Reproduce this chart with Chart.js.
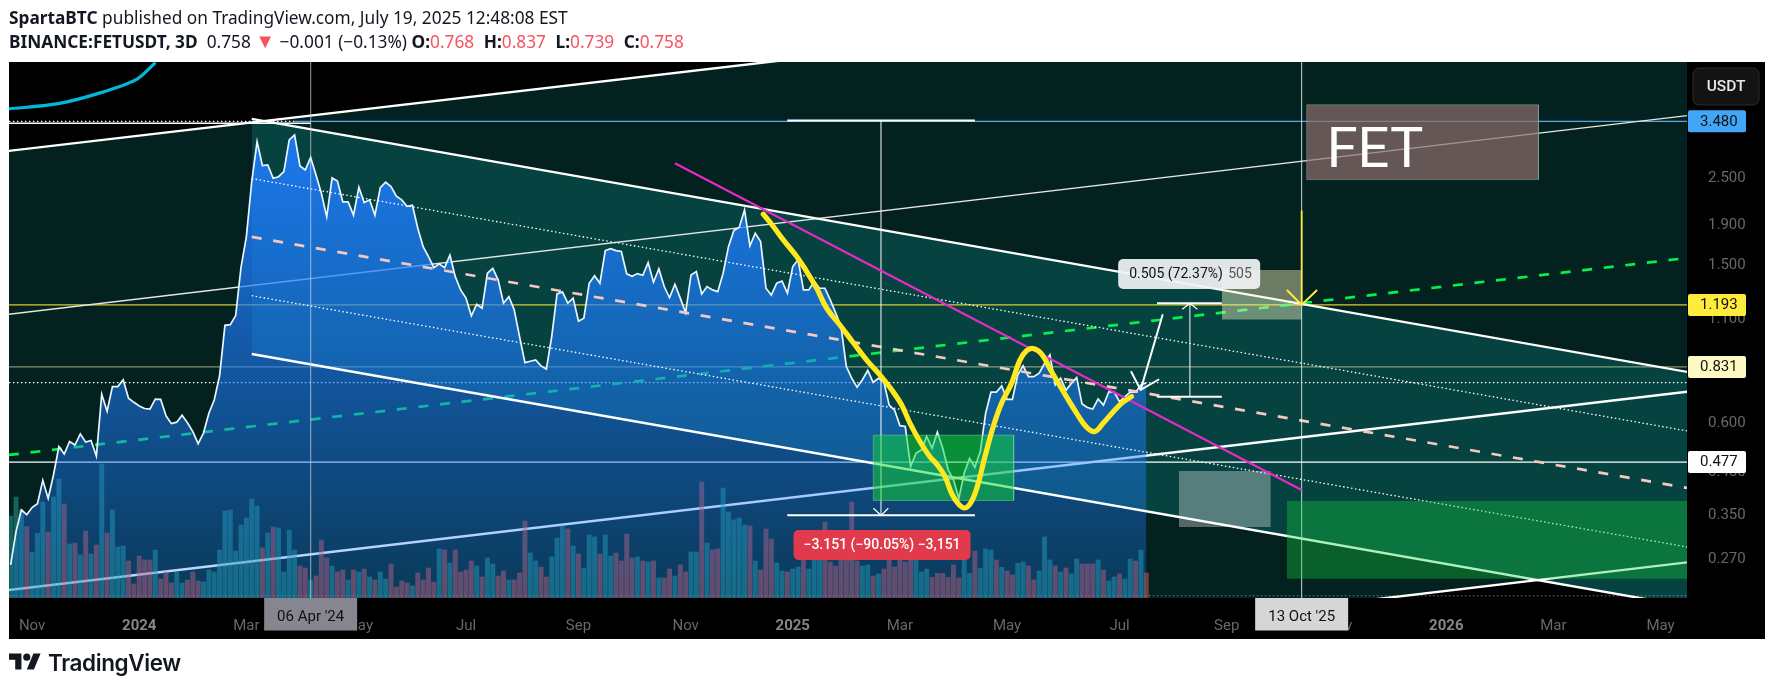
<!DOCTYPE html>
<html><head><meta charset="utf-8"><title>FETUSDT</title>
<style>
html,body{margin:0;padding:0;background:#fff;width:1774px;height:691px;overflow:hidden}
canvas{position:absolute;left:0;top:0}
.h{position:absolute;left:9px;font-family:"Noto Sans",sans-serif;font-size:17.3px;color:#131722;white-space:nowrap;line-height:20px}
.h b{font-weight:700}.r{color:#f7525f}.g{margin-left:5px}.t{font-size:20px;line-height:16px}
#brand{position:absolute;left:48px;top:649px;font-family:Inter,sans-serif;font-weight:600;font-size:22.5px;letter-spacing:-.4px;color:#131722;line-height:28px}
#logo{position:absolute;left:9px;top:650px}
</style></head><body>
<canvas id="c" width="1774" height="691"></canvas>
<div class="h" style="top:8px"><b>SpartaBTC</b> published on TradingView.com, July 19, 2025 12:48:08 EST</div>
<div class="h" style="top:32px"><b>BINANCE:FETUSDT, 3D</b>&nbsp; 0.758 <span class="r t">▼</span> −0.001 (−0.13%) <b>O:</b><span class="r">0.768</span> <b class="g">H:</b><span class="r">0.837</span> <b class="g">L:</b><span class="r">0.739</span> <b class="g">C:</b><span class="r">0.758</span></div>
<svg id="logo" width="32" height="25" viewBox="0 0 36 28"><path fill="#131722" d="M14 22H7V11H0V4h14v18zM28 22h-8l7.5-18h8L28 22z"/><circle fill="#131722" cx="20" cy="8" r="4"/></svg>
<div id="brand">TradingView</div>
<script src="https://cdn.jsdelivr.net/npm/chart.js@4/dist/chart.umd.min.js"></script>
<script>
// x axis unit: days since 21 Oct 2023 (one bar = 3 days)
const BAR_DAYS = 3;
const closes = [
.262,.318,.361,.351,.366,.374,.429,.386,.443,.522,
.500,.538,.527,.562,.536,.541,.494,.708,.642,.741,
.741,.771,.692,.676,.662,.652,.650,.689,.688,.625,
.597,.602,.627,.600,.570,.531,.565,.634,.685,.789,
1.059,1.063,1.121,1.486,1.777,2.450,3.093,2.688,2.698,2.497,
2.520,2.597,3.124,3.216,2.684,2.622,2.818,2.546,2.289,1.994,
2.502,2.458,2.176,2.176,2.014,2.370,2.168,2.202,2.014,2.365,
2.440,2.379,2.249,2.202,2.121,2.134,1.865,1.676,1.582,1.483,
1.516,1.483,1.594,1.407,1.302,1.241,1.119,1.198,1.170,1.435,
1.477,1.381,1.205,1.252,1.160,.992,.852,.859,.865,.836,
.820,.992,1.272,1.287,1.205,1.241,1.085,1.104,1.354,1.415,
1.354,1.638,1.657,1.638,1.629,1.430,1.410,1.432,1.418,1.527,
1.362,1.472,1.328,1.244,1.346,1.241,1.139,1.421,1.449,1.272,
1.328,1.302,1.289,1.435,1.676,1.841,1.875,2.077,1.684,1.812,
1.726,1.315,1.263,1.354,1.371,1.277,1.492,1.552,1.302,1.302,
1.367,1.315,1.315,1.228,1.139,1.053,.833,.778,.738,.771,
.814,.759,.778,.762,.665,.646,.590,.587,.465,.502,
.512,.554,.517,.568,.517,.456,.431,.386,.447,.487,
.463,.507,.634,.717,.717,.744,.688,.688,.794,.836,
.785,.785,.801,.848,.892,.748,.778,.725,.755,.781,
.669,.656,.650,.689,.665,.718,.718,.679,.699,.717,
.717,.748,.758];
const volumes = [
24.6,30.3,26.4,21.4,13.8,19.4,28.8,19.8,30.3,35.7,28.2,16.2,16.5,12.9,20.1,13.2,15.9,40.2,19.5,26.4,
15.3,15.6,11.1,4.2,12.6,11.4,11.4,14.4,5.7,7.8,4.5,7.8,4.5,5.4,7.8,5.1,4.8,8.4,7.8,14.4,
26.1,26.4,14.1,21.9,24.0,29.7,27.6,15.0,19.5,21.3,21.0,7.8,20.4,14.4,9.6,9.0,5.4,6.6,17.4,12.0,
9.6,7.8,8.4,5.4,8.4,7.8,8.7,6.3,5.4,7.8,5.7,10.2,3.3,5.1,4.5,3.6,7.5,5.4,9.0,4.8,
14.7,14.4,10.5,14.4,7.8,8.4,11.1,9.6,6.3,12.0,10.2,6.6,8.1,5.4,5.4,7.5,23.1,13.5,11.1,9.3,
6.3,12.3,18.0,21.6,20.7,15.6,13.2,9.0,18.9,18.3,13.2,18.9,12.6,13.5,11.1,19.2,12.0,12.3,11.1,10.8,
11.1,6.0,6.0,8.7,6.6,9.9,7.8,13.8,13.8,34.8,16.5,14.4,14.7,33.0,25.8,23.4,24.0,21.9,21.6,11.1,
8.4,20.7,17.7,10.5,8.1,7.8,8.7,9.3,11.4,8.7,11.4,11.4,22.8,10.8,9.6,11.4,11.6,28.8,11.1,9.6,
9.9,6.6,7.2,8.7,11.4,9.3,11.4,10.8,11.4,11.4,7.8,8.7,6.2,7.4,7.4,6.2,9.9,6.0,11.6,7.4,
14.1,8.9,14.7,14.4,11.4,9.2,8.1,6.9,10.4,10.8,9.6,5.4,8.1,18.3,11.4,9.6,7.8,9.0,7.2,11.7,
10.2,10.2,10.2,11.4,8.4,5.1,6.3,7.2,5.7,11.7,11.1,14.4,7.5];
const volumeUp = [
1,1,1,0,1,1,1,0,1,1,0,1,0,1,0,1,0,1,0,1,
1,1,0,0,0,0,0,1,0,0,0,1,1,0,0,0,1,1,1,1,
1,1,1,1,1,1,1,0,1,0,1,1,1,1,0,0,1,0,0,0,
1,0,0,1,0,1,0,1,0,1,1,0,0,0,0,1,0,0,0,0,
1,0,1,0,0,0,0,1,0,1,1,0,0,1,0,0,0,1,1,0,
0,1,1,1,0,1,0,1,1,1,0,1,1,0,0,0,0,1,0,1,
0,1,0,0,1,0,0,1,1,0,1,0,0,1,1,1,1,1,0,1,
0,0,0,1,1,0,1,1,0,1,1,1,0,0,0,0,0,0,0,1,
1,0,1,0,0,0,0,0,0,1,1,1,0,0,0,0,0,0,1,1,
0,1,1,1,0,1,0,0,1,1,0,0,1,1,1,0,1,0,1,1,
0,0,0,1,0,1,1,0,1,1,0,1,0];
const timeTickDays   = [12,72,132,195,255,318,378,438,498,558,621,681,744,804,864,924];
const timeTickLabels = ['Nov','2024','Mar','May','Jul','Sep','Nov','2025','Mar','May','Jul','Sep','Nov','2026','Mar','May'];
const yearLabels = ['2024','2025','2026'];
const priceTicks = [2.5,1.9,1.5,1.1,0.6,0.45,0.35,0.27];
const priceTagValues = [3.48,1.193,0.831,0.477];
const priceTagColors = ['#42a5f5','#ffeb3b','#fff9c4','#ffffff'];
const dateTags = [[168,"06 Apr '24",'#868690'],[723,"13 Oct '25",'#d6d6d6']];

// drawing objects in [day, price]
const ascTop = [[-1,2.93],[939,9.21]];
const ascMid = [[-1,1.13],[939,3.60]];
const ascLow = [[-1,.2262],[939,.7193]];
const ascBase = [[-1,.0835],[939,.2658]];
const descTop = [[135,3.531],[939,.807]];
const descUpperDot = [[135,2.493],[939,.572]];
const descMid = [[135,1.774],[939,.4101]];
const descLowerDot = [[135,1.259],[939,.2907]];
const descBot = [[135,.8963],[939,.2056]];
const greenDash = [[-1,.4972],[934.3,1.560]];
const magentaLine = [[372,2.727],[723,.4054]];
const cyanCurve = [[-1,3.743],[25.7,3.853],[47.8,4.079],[70,4.433],[81.1,4.904]];
const rangeDownTop = [[434.9,3.496],[540,3.496]];
const rangeDownBot = [[434.9,.3497],[540,.3497]];
const rangeDownStem = [[487.4,3.496],[487.4,.3497]];
const rangeDownHead = [[483.1,.3643],[487.4,.3497],[491.5,.3643]];
const rangeUpTop = [[642,1.205],[678.3,1.205]];
const rangeUpBot = [[642,.6986],[678.3,.6986]];
const rangeUpStem = [[660.4,1.205],[660.4,.6986]];
const rangeUpHead = [[656.1,1.163],[660.4,1.205],[664.6,1.163]];
const whiteArrow = [[645.2,1.130],[632.8,.7265]];
const whiteArrowHead = [[627.4,.8103],[632.8,.7265],[643.2,.7733]];
const yellowStem = [[723,2.068],[723,1.193]];
const yellowHead = [[714.7,1.302],[723,1.193],[731.6,1.302]];
const yellowCurve = [[421.5,2.025],[427.1,1.885],[432.7,1.743],[440.2,1.582],[445.8,1.449],[451.4,1.315],[457,1.170],[464.4,1.061],[471.9,.957],[479.4,.865],[486.8,.793],[493.4,.727],[499,.665],[503.6,.599],[509.2,.538],[514.8,.492],[518.5,.472],[523.2,.439],[526.9,.398],[530.7,.374],[534.4,.365],[538.1,.379],[541.9,.422],[545.6,.492],[550.3,.587],[554.9,.672],[560.5,.755],[565.2,.865],[568.9,.913],[572.7,.925],[577.3,.897],[582.9,.809],[589.5,.720],[597,.634],[602.5,.585],[607.2,.570],[611.9,.599],[617.5,.640],[623.1,.678],[627.7,.699]];
// boxes: day from, day to, price high, price low
const entryBox = [483.1,561.7,.558,.3815];
const grayBox = [654.2,705.7,.4529,.3267];
const paleBox = [678.3,723.1,1.463,1.095];
const targetBox = [714.7,940,.3802,.2416];
const fetBox = [725.8,855.6,3.832,2.478];

const X_MIN=-0.935, X_MAX=938.8, Y_MIN=.2159, Y_MAX=4.92, VOL_MAX=160.8;
const ds=[];
const pts=a=>a.map(([x,y])=>({x,y}));
function line(a,color,width,extra){ds.push(Object.assign({type:'line',data:pts(a),borderColor:color,borderWidth:width,pointRadius:0,fill:false,tension:0,xAxisID:'x',yAxisID:'y',borderCapStyle:'butt'},extra||{}));return ds.length-1;}
function box(b,fillColor,stroke){
  line([[b[0],b[2]],[b[1],b[2]]],'transparent',0,{fill:{value:b[3]},backgroundColor:fillColor});
  if(stroke) line([[b[0],b[2]],[b[1],b[2]],[b[1],b[3]],[b[0],b[3]],[b[0],b[2]]],stroke,1);
}
const DOT=[1.5,2.5], DASH=[10,11.7];
// background fills
let i0=line(ascBase,'transparent',0);
line(ascTop,'transparent',0,{fill:{target:i0,above:'#03221f',below:'#03221f'}});
i0=line(descBot,'transparent',0);
line(descTop,'transparent',0,{fill:{target:i0,above:'#054240',below:'#054240'}});
// lines that sit under the price area
line([[-1,1.193],[939,1.193]],'#d8cc2c',1.2);
line([[-1,.831],[939,.831]],'rgba(255,249,196,.5)',1.2);
line([[-1,.477],[939,.477]],'#ffffff',1.2);
line([[-1,.758],[939,.758]],'#ffffff',1.3,{borderDash:DOT});
line([[-1,.2187],[939,.2187]],'rgba(255,255,255,.45)',1,{borderDash:DOT});
line([[-1,3.48],[159,3.48]],'#ffffff',1.2,{borderDash:DOT});
line([[159,3.48],[939,3.48]],'#5aa9e6',1.3);
line([[-1,3.444],[168,3.444]],'#ffffff',1.5);
line(cyanCurve,'#00b8d8',3.2,{tension:.3});
line(ascTop,'#ffffff',2.4);
line(ascMid,'#e6e6e6',1.4);
line(ascLow,'#ffffff',2.6);
line(ascBase,'#ffffff',2.4);
line(greenDash,'#05f04c',2.7,{borderDash:DASH});
// volume
ds.push({type:'bar',data:volumes.map((v,i)=>({x:i*BAR_DAYS,y:v})),backgroundColor:volumeUp.map(u=>u?'rgba(38,166,154,.5)':'rgba(239,83,80,.5)'),barThickness:4.3,xAxisID:'x',yAxisID:'yVol',borderWidth:0});
// price area
ds.push({type:'line',data:closes.map((c,i)=>({x:i*BAR_DAYS,y:c})),borderColor:'#e9f5ff',borderWidth:1.7,pointRadius:0,tension:0,xAxisID:'x',yAxisID:'y',fill:'start',
 backgroundColor(ctx){const a=ctx.chart.chartArea;if(!a)return 'rgba(30,125,255,.5)';const y=ctx.chart.scales.y;const g=ctx.chart.ctx.createLinearGradient(0,y.getPixelForValue(3.48),0,a.bottom);g.addColorStop(0,'rgba(30,125,255,.92)');g.addColorStop(1,'rgba(30,125,255,.26)');return g;}});
// channel on top of the area
line(descTop,'#ffffff',2.4);
line(descBot,'#ffffff',2.4);
line(descUpperDot,'#ffffff',1.3,{borderDash:DOT});
line(descLowerDot,'#ffffff',1.3,{borderDash:DOT});
line(descMid,'#f6c8c2',2.7,{borderDash:DASH});
line([[168,Y_MIN],[168,Y_MAX]],'rgba(205,210,220,.62)',1.2);
line([[723,Y_MIN],[723,Y_MAX]],'rgba(255,255,255,.8)',1);
// measures
line(rangeDownStem,'rgba(255,255,255,.9)',1.1);
line(rangeDownTop,'#fff',2);line(rangeDownBot,'#fff',2);line(rangeDownHead,'#fff',1.2);
line(rangeUpStem,'rgba(255,255,255,.9)',1.1);
line(rangeUpTop,'#fff',2);line(rangeUpBot,'#fff',2);line(rangeUpHead,'#fff',1.2);
// boxes
box(entryBox,'rgba(17,217,48,.5)','rgba(120,220,160,.5)');
box(grayBox,'rgba(255,255,255,.32)');
box(paleBox,'rgba(255,249,196,.42)');
box(targetBox,'rgba(22,211,63,.35)');
box(fetBox,'rgba(143,110,108,.7)','rgba(150,170,160,.5)');
// arrows and marker lines
line(magentaLine,'#e32bc6',2.2);
line(whiteArrow,'#fff',2);line(whiteArrowHead,'#fff',2);
line(yellowStem,'#ffeb3b',1.8);line(yellowHead,'#ffeb3b',2);
line(yellowCurve,'#ffe81e',5.2,{tension:.4,borderCapStyle:'round',borderJoinStyle:'round'});
ds.forEach((d,i)=>{d.order=ds.length-i;});

const FONT='Roboto, sans-serif';
const overlay={id:'overlay',
 beforeDraw(c){const g=c.ctx,a=c.chartArea;g.save();g.fillStyle='#000';g.fillRect(a.left,a.top,c.scales.y.right-a.left,c.scales.x.bottom-a.top);g.restore();},
 afterDraw(c){const g=c.ctx,a=c.chartArea,X=c.scales.x,Y=c.scales.y;g.save();
  g.textBaseline='middle';
  const rr=(x,y,w,h,r,col)=>{g.fillStyle=col;g.beginPath();g.roundRect(x,y,w,h,r);g.fill();};
  // FET
  g.fillStyle='#fff';g.textAlign='left';g.textBaseline='alphabetic';g.font='400 56px '+FONT;
  g.fillText('FET',X.getPixelForValue(737),Y.getPixelForValue(2.668));
  g.textBaseline='middle';
  // measure labels
  let cx=X.getPixelForValue(660),cy=Y.getPixelForValue(1.429);
  rr(cx-71,cy-15,142,30,5,'rgba(240,243,245,.93)');
  g.textAlign='left';g.font='14px '+FONT;g.fillStyle='#111';g.fillText('0.505 (72.37%)',cx-60,cy+.5);
  g.fillStyle='#555';g.fillText('505',cx+39,cy+.5);
  cx=X.getPixelForValue(488);cy=Y.getPixelForValue(.294);
  rr(cx-88.5,cy-15,177,30,5,'#e03a4b');
  g.textAlign='center';g.font='500 14px '+FONT;g.fillStyle='#fff';g.fillText('−3.151 (−90.05%) −3,151',cx,cy+.5);
  // price tags
  g.font='15px '+FONT;g.textAlign='left';
  priceTagValues.forEach((v,i)=>{const y=Y.getPixelForValue(v);rr(a.right+1,y-11,58,22,2,priceTagColors[i]);g.fillStyle='#111';g.fillText(v.toFixed(3),a.right+13,y+.5);});
  // date tags
  g.textAlign='center';
  dateTags.forEach(([d,t,col])=>{const x=X.getPixelForValue(d);rr(x-46.5,a.bottom,93,32.5,0,col);g.fillStyle='#111';g.fillText(t,x,a.bottom+19.5);});
  // currency button
  g.strokeStyle='#2a2a2a';g.lineWidth=1;g.fillStyle='#131313';g.beginPath();g.roundRect(a.right+6,a.top+6,66,37,6);g.fill();g.stroke();
  g.fillStyle='#e8e8e8';g.font='500 15.5px '+FONT;g.fillText('USDT',a.right+39,a.top+25);
  g.restore();}
};
const isYear=ctx=>!!ctx.tick&&yearLabels.includes(ctx.tick.label);
new Chart(document.getElementById('c'),{type:'line',data:{datasets:ds},plugins:[overlay],options:{
 responsive:false,animation:false,events:[],
 layout:{padding:{left:9,top:62,right:9,bottom:52}},
 plugins:{legend:{display:false},tooltip:{enabled:false},title:{display:false},filler:{propagate:false}},
 scales:{
  x:{type:'linear',min:X_MIN,max:X_MAX,offset:false,grid:{display:false},border:{display:false},
    afterBuildTicks(s){s.ticks=timeTickDays.map(v=>({value:v}));},
    afterFit(s){s.height=41;},
    ticks:{autoSkip:false,maxRotation:0,padding:11,
      callback(v){return timeTickLabels[timeTickDays.indexOf(v)];},
      color(ctx){return isYear(ctx)?'#868686':'#686868';},
      font(ctx){return {family:'Roboto',size:15,weight:isYear(ctx)?'700':'400'};}}},
  y:{type:'logarithmic',position:'right',min:Y_MIN,max:Y_MAX,grid:{display:false},border:{display:false},
    afterBuildTicks(s){s.ticks=priceTicks.map(v=>({value:v}));},
    afterFit(s){s.width=78;},
    ticks:{autoSkip:false,padding:13,color:'#686868',font:{family:'Roboto',size:15},align:'center',crossAlign:'near',callback(v){return Number(v).toFixed(3);}}},
  yVol:{type:'linear',display:false,min:0,max:VOL_MAX}
 }}});
</script></body></html>
